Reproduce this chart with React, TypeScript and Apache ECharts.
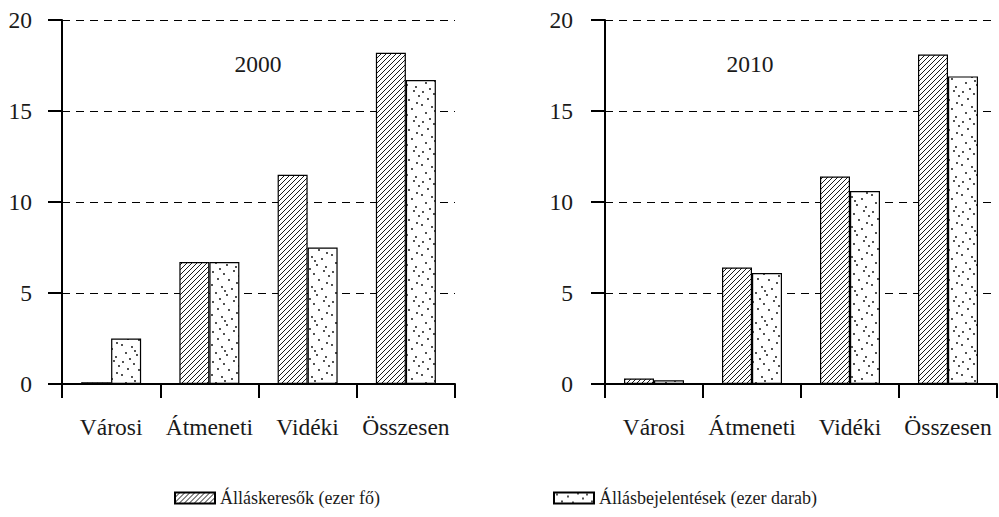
import React, { useEffect, useRef } from 'react';
import * as echarts from 'echarts';

const categories = ['Városi', 'Átmeneti', 'Vidéki', 'Összesen'];
const seekers2000 = [0.1, 6.7, 11.5, 18.2];
const vacancies2000 = [2.5, 6.7, 7.5, 16.7];
const seekers2010 = [0.3, 6.4, 11.4, 18.1];
const vacancies2010 = [0.2, 6.1, 10.6, 16.9];
const yMin = 0;
const yMax = 20;
const yStep = 5;
const panelTitles = ['2000', '2010'];
const seriesNames = ['Álláskeresők (ezer fő)', 'Állásbejelentések (ezer darab)'];

const FONT = 'Liberation Serif';
const INK = '#1a1a1a';

// texture dot positions inside a 30x30 tile (style, not data)
const dotTile: number[][] = [
  [3, 2], [14, 4], [24, 1], [8, 9], [19, 10], [27, 13], [2, 15], [12, 17],
  [22, 19], [6, 23], [17, 25], [26, 27], [10, 29], [29, 6], [15, 21],
];

function makeHatch(): HTMLCanvasElement {
  const s = 5;
  const c = document.createElement('canvas');
  c.width = s;
  c.height = s;
  const ctx = c.getContext('2d')!;
  ctx.fillStyle = '#fff';
  ctx.fillRect(0, 0, s, s);
  ctx.strokeStyle = '#000';
  ctx.lineWidth = 0.9;
  ctx.beginPath();
  ctx.moveTo(-1, s + 1);
  ctx.lineTo(s + 1, -1);
  ctx.moveTo(-1, 1);
  ctx.lineTo(1, -1);
  ctx.moveTo(s - 1, s + 1);
  ctx.lineTo(s + 1, s - 1);
  ctx.stroke();
  return c;
}

function makeDots(): HTMLCanvasElement {
  const s = 30;
  const c = document.createElement('canvas');
  c.width = s;
  c.height = s;
  const ctx = c.getContext('2d')!;
  ctx.fillStyle = '#fff';
  ctx.fillRect(0, 0, s, s);
  ctx.fillStyle = '#000';
  dotTile.forEach(([x, y]) => {
    ctx.beginPath();
    ctx.arc(x, y, 0.9, 0, Math.PI * 2);
    ctx.fill();
  });
  return c;
}

export default function App() {
  const ref = useRef<HTMLDivElement>(null);

  useEffect(() => {
    if (!ref.current) return;
    const chart = echarts.init(ref.current, undefined, { renderer: 'svg' });
    const hatch = { image: makeHatch(), repeat: 'repeat' };
    const dots = { image: makeDots(), repeat: 'repeat' };

    const axisLine = { show: true, lineStyle: { color: '#000', width: 2 } };
    const axisTick = { show: true, length: 14, lineStyle: { color: '#000', width: 2 } };
    const labelStyle = { fontSize: 23.5, fontFamily: FONT, color: INK };

    const xAxis = [0, 1].map((g) => ({
      type: 'category',
      gridIndex: g,
      data: categories,
      axisLine,
      axisTick,
      axisLabel: { ...labelStyle, margin: 31, interval: 0, hideOverlap: false },
      splitLine: { show: false },
    }));

    const yAxis = [0, 1].map((g) => ({
      type: 'value',
      gridIndex: g,
      min: yMin,
      max: yMax,
      interval: yStep,
      axisLine,
      axisTick,
      axisLabel: { ...labelStyle, margin: g === 0 ? 30 : 32 },
      splitLine: { show: true, lineStyle: { color: '#000', width: 1, type: [8, 6] } },
    }));

    const barStyle = (pattern: any) => ({
      color: pattern,
      borderColor: '#000',
      borderWidth: 1.2,
    });

    const mk = (name: string, data: number[], g: number, pattern: any) => ({
      type: 'bar',
      name,
      xAxisIndex: g,
      yAxisIndex: g,
      data,
      barWidth: 30,
      barGap: '0%',
      itemStyle: barStyle(pattern),
      emphasis: { disabled: true },
    });

    const legendBase = {
      top: 489,
      padding: 0,
      itemWidth: 40,
      itemHeight: 11,
      icon: 'rect',
      selectedMode: false,
      textStyle: { fontSize: 18, fontFamily: FONT, color: INK },
    };

    chart.setOption({
      animation: false,
      backgroundColor: '#fff',
      textStyle: { fontFamily: FONT },
      grid: [
        { left: 62, top: 20, width: 393, height: 364 },
        { left: 605, top: 20, width: 392, height: 364 },
      ],
      xAxis,
      yAxis,
      legend: [
        { ...legendBase, left: 174, data: [seriesNames[0]] },
        { ...legendBase, left: 553, data: [seriesNames[1]] },
      ],
      graphic: [
        {
          type: 'text',
          x: 258,
          y: 64,
          style: { text: panelTitles[0], fontSize: 23.5, fontFamily: FONT, fill: INK, align: 'center', verticalAlign: 'middle' },
        },
        {
          type: 'text',
          x: 750,
          y: 64,
          style: { text: panelTitles[1], fontSize: 23.5, fontFamily: FONT, fill: INK, align: 'center', verticalAlign: 'middle' },
        },
      ],
      series: [
        mk(seriesNames[0], seekers2000, 0, hatch),
        mk(seriesNames[1], vacancies2000, 0, dots),
        mk(seriesNames[0], seekers2010, 1, hatch),
        mk(seriesNames[1], vacancies2010, 1, dots),
      ],
    });

    return () => chart.dispose();
  }, []);

  return (
    <div
      ref={ref}
      style={{ position: 'fixed', left: 0, top: 0, width: 999, height: 517 }}
    />
  );
}
